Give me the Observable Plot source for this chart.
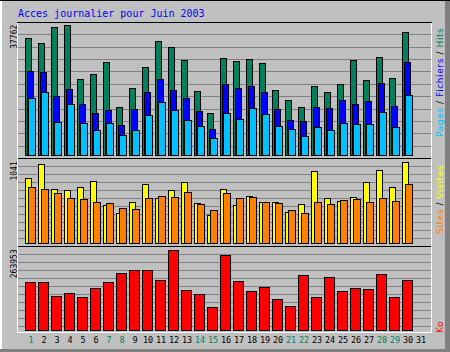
<!DOCTYPE html>
<html>
<head>
<meta charset="utf-8">
<script src="https://cdn.jsdelivr.net/npm/d3@7"></script>
<script src="https://cdn.jsdelivr.net/npm/@observablehq/plot@0.6"></script>
<style>
  html, body { margin: 0; padding: 0; background: #c0c0c0; }
  #chart { position: relative; width: 450px; height: 352px; background: #c0c0c0; overflow: hidden; }
  #chart svg { position: absolute; left: 0; overflow: visible; }
  .ln { position: absolute; }
</style>
</head>
<body>
<div id="chart"></div>
<script>
// ---------- data ----------
const title = "Acces journalier pour Juin 2003";
const dayLabels = [1,2,3,4,5,6,7,8,9,10,11,12,13,14,15,16,17,18,19,20,21,22,23,24,25,26,27,28,29,30,31];
const weekendDays = [1,7,8,14,15,21,22,28,29];
const dataDays = [1,2,3,4,5,6,7,8,9,10,11,12,13,14,15,16,17,18,19,20,21,22,23,24,25,26,27,28,29,30];

const hits   = [34095,32727,37382,37762,22254,23709,27200,14109,19636,25745,33308,31563,27781,18763,12363,28363,27490,28072,26908,19054,16145,14109,20218,18472,20799,27781,21963,28654,22545,35926];
const files  = [24582,24290,17222,19345,14981,12160,13236,8873,13527,18472,22254,19054,16524,12945,7709,20799,19636,20218,18472,13527,10327,10036,14109,13818,16145,14981,15854,21090,14400,27200];
const pages  = [16524,18385,9745,14981,9454,7418,9454,5760,7418,11782,15563,13236,10327,8582,5091,12363,10618,13818,12072,8582,7709,5673,8291,7418,9454,9163,9163,12654,8291,17600];
const visits = [835,1019,694,681,723,797,488,389,527,762,578,681,784,514,360,694,488,604,527,527,398,501,925,578,540,591,784,938,723,1041];
const sites  = [723,694,637,582,565,527,514,441,437,578,604,591,655,501,424,634,578,591,527,514,424,386,527,501,553,565,527,578,540,762];
const kbytes = [157980,157980,111614,121550,108302,138110,157980,187790,197726,197726,164606,263953,131486,118238,75182,247406,161294,128174,141422,101678,78494,181166,108302,174542,128174,138110,132480,182160,108302,164606];

const rows = dataDays.map((d, i) => ({day: d, hits: hits[i], files: files[i], pages: pages[i],
  visits: visits[i], sites: sites[i], kbytes: kbytes[i]}));

// ---------- colours ----------
const C = {hits: "#00805c", files: "#0000ff", pages: "#00c0ff", visits: "#ffff00",
  sites: "#ff8000", kbytes: "#ff0000", grid: "#808080", weekend: "#00805c"};

// ---------- layout ----------
const W = 450;
const bandRange = [21.3, 429.9];
const panels = {
  top: {top: 22,  h: 136,  panelH: 136,  mt: 3.7, mb: 2.5},
  mid: {top: 158, h: 88.5, panelH: 88.5, mt: 4.3, mb: 3.2},
  bot: {top: 246, h: 106,  panelH: 88.5, mt: 4.3, mb: 22}
};
const bw = (bandRange[1] - bandRange[0]) / dayLabels.length;

// ten division lines of each panel, expressed in the panel's value units
function gridValues(max, L) {
  const inner = L.h - L.mt - L.mb;
  return d3.range(1, 11).map(k => max * (1 - (k * L.panelH / 11 - L.mt) / inner));
}

function base(L, max) {
  return {
    width: W, height: L.h,
    marginLeft: 18, marginRight: 19, marginTop: L.mt, marginBottom: L.mb,
    x: {type: "band", domain: dayLabels, range: bandRange, padding: 0, axis: null},
    y: {domain: [0, max], axis: null},
    style: {background: "transparent", overflow: "visible"}
  };
}

function bar(field, fill, il, width) {
  return Plot.barY(rows, {x: "day", y: field, fill, stroke: "#000", strokeWidth: 1,
    insetLeft: il, insetRight: bw - il - width, shapeRendering: "crispEdges"});
}

function maxLabel(max) {
  return Plot.text([max], {y: d => d, text: d => String(d), frameAnchor: "left", dx: -4.5, dy: -1.5,
    rotate: -90, textAnchor: "end", fill: "#000", fontFamily: "DejaVu Sans Mono", fontSize: 8});
}

const maxHits = d3.max(hits), maxVisits = d3.max(visits), maxK = d3.max(kbytes);

const topPlot = Plot.plot({
  ...base(panels.top, maxHits),
  marks: [
    Plot.ruleY(gridValues(maxHits, panels.top), {stroke: C.grid, shapeRendering: "crispEdges"}),
    bar("hits", C.hits, 1, 6.4),
    bar("files", C.files, 3, 6.4),
    bar("pages", C.pages, 4.4, 7),
    maxLabel(maxHits)
  ]
});

const midPlot = Plot.plot({
  ...base(panels.mid, maxVisits),
  marks: [
    Plot.ruleY(gridValues(maxVisits, panels.mid), {stroke: C.grid, shapeRendering: "crispEdges"}),
    bar("visits", C.visits, 1, 6.4),
    bar("sites", C.sites, 4, 7.4),
    maxLabel(maxVisits)
  ]
});

const botPlot = Plot.plot({
  ...base(panels.bot, maxK),
  marks: [
    Plot.ruleY(gridValues(maxK, panels.bot), {stroke: C.grid, shapeRendering: "crispEdges"}),
    bar("kbytes", C.kbytes, 1.7, 9.7),
    maxLabel(maxK),
    Plot.text(dayLabels, {x: d => d, text: d => String(d), frameAnchor: "bottom", dy: 12.5,
      fill: d => weekendDays.includes(d) ? C.weekend : "#000",
      fontFamily: "DejaVu Sans Mono", fontSize: 8.5})
  ]
});

const chart = document.getElementById("chart");
[[topPlot, panels.top], [midPlot, panels.mid], [botPlot, panels.bot]].forEach(([svg, L]) => {
  svg.style.top = L.top + "px";
  chart.appendChild(svg);
});

// ---------- decoration: bevels & panel frame ----------
function line(l, t, w, h, c) {
  const d = document.createElement("div");
  d.className = "ln";
  d.style.cssText += `left:${l}px;top:${t}px;width:${w}px;height:${h}px;background:${c};`;
  chart.appendChild(d);
}
line(0, 0, 450, 1, "#000");
line(0, 1, 2, 349, "#fff");
line(445, 1, 5, 351, "#808080");
line(0, 349, 450, 3, "#808080");
line(17, 22, 415, 1, "#000");
line(17, 158, 415, 1, "#000");
line(17, 246, 415, 1, "#000");
line(17, 23, 1, 310, "#fff");
line(431, 23, 1, 310, "#fff");
line(17, 332, 415, 1, "#fff");

// ---------- title ----------
const t = document.createElement("div");
t.textContent = title;
t.style.cssText = "position:absolute;left:18px;top:9px;font:10px 'DejaVu Sans Mono';line-height:10px;color:#0000ff;white-space:pre;";
chart.appendChild(t);

// ---------- side legends ----------
function side(parts, bottomY) {
  const d = document.createElement("div");
  d.style.cssText = `position:absolute;left:435.5px;top:${bottomY}px;transform-origin:0 0;transform:rotate(-90deg);white-space:pre;font:9px 'DejaVu Sans';line-height:9px;letter-spacing:0.6px;`;
  parts.forEach(([txt, col]) => {
    const s = document.createElement("span");
    s.textContent = txt; s.style.color = col; d.appendChild(s);
  });
  chart.appendChild(d);
}
side([["Pages", C.pages], [" / ", "#000"], ["Fichiers", C.files], [" / ", "#000"], ["Hits", C.hits]], 137);
side([["Sites", C.sites], [" / ", "#000"], ["Visites", C.visits]], 234);
side([["Ko", C.kbytes]], 333);
</script>
</body>
</html>
